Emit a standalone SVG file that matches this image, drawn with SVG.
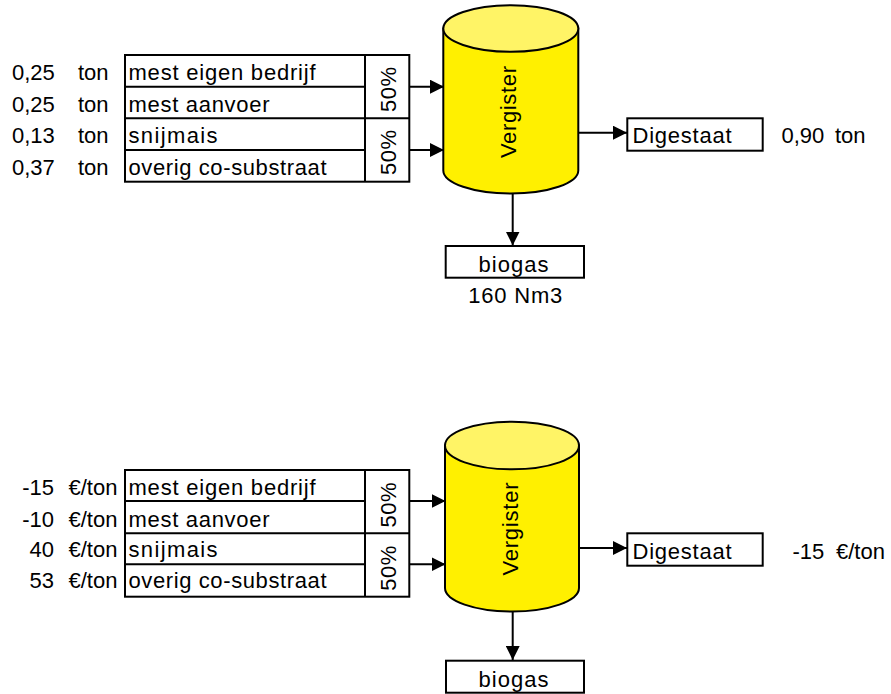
<svg xmlns="http://www.w3.org/2000/svg" width="891" height="694" viewBox="0 0 891 694">
  <style>
    text { font-family: "Liberation Sans", Arial, sans-serif; font-size: 22px; fill: #000; }
    .box { fill: #fff; stroke: #000; stroke-width: 2; }
    .grid { stroke: #000; stroke-width: 2; fill: none; }
    .body { fill: #FFF000; stroke: #000; stroke-width: 2; }
    .lid { fill: #FFF466; stroke: #000; stroke-width: 2; }
    .flow { stroke: #000; stroke-width: 2; fill: none; marker-end: url(#head); }
    .mid { text-anchor: middle; }
    .end { text-anchor: end; }
  </style>
  <defs>
    <marker id="head" markerUnits="userSpaceOnUse" markerWidth="15" markerHeight="14" refX="14" refY="7" orient="auto">
      <path d="M0,0 L14,7 L0,14 z" fill="#000"/>
    </marker>
  </defs>
  <rect width="891" height="694" fill="#fff"/>

  <!-- ===== Mass balance (top) ===== -->
  <g id="inputs-mass">
    <rect class="box" x="125" y="55" width="284.3" height="126.7"/>
    <path class="grid" d="M365,55 V181.7 M125,86.7 H365 M125,118.3 H409.3 M125,150 H365"/>
    <text x="12" y="80">0,25</text><text x="78" y="80">ton</text>
    <text x="12" y="111.7">0,25</text><text x="78" y="111.7">ton</text>
    <text x="12" y="143.3">0,13</text><text x="78" y="143.3">ton</text>
    <text x="12" y="175">0,37</text><text x="78" y="175">ton</text>
    <text x="128.5" y="80" textLength="187" lengthAdjust="spacing">mest eigen bedrijf</text>
    <text x="128.5" y="111.7" textLength="141" lengthAdjust="spacing">mest aanvoer</text>
    <text x="128.5" y="143.3" textLength="89" lengthAdjust="spacing">snijmais</text>
    <text x="128.5" y="175" textLength="198" lengthAdjust="spacing">overig co-substraat</text>
    <text class="mid" transform="translate(395.5,89.5) rotate(-90)" textLength="45" lengthAdjust="spacing">50%</text>
    <text class="mid" transform="translate(395.5,152.5) rotate(-90)" textLength="45" lengthAdjust="spacing">50%</text>
  </g>

  <g id="vergister-mass">
    <path class="body" d="M443.3,28.5 V170.5 A67.5,23 0 0 0 578.3,170.5 V28.5 z"/>
    <ellipse class="lid" cx="510.8" cy="28.5" rx="67.5" ry="23.3"/>
    <text class="mid" transform="translate(516,112) rotate(-90)" textLength="92" lengthAdjust="spacing">Vergister</text>
  </g>

  <g id="digestaat-mass">
    <rect class="box" x="627.3" y="118.3" width="135.4" height="32.4"/>
    <text x="632.5" y="143.3" textLength="99" lengthAdjust="spacing">Digestaat</text>
    <text x="781.5" y="143.3">0,90</text>
    <text x="835" y="143.3">ton</text>
  </g>

  <g id="biogas-mass">
    <rect class="box" x="445.7" y="246" width="138.3" height="31.7"/>
    <text class="mid" x="513.5" y="271.7" textLength="70" lengthAdjust="spacing">biogas</text>
    <text class="mid" x="515.3" y="302.7" textLength="94" lengthAdjust="spacing">160 Nm3</text>
  </g>

  <!-- ===== Cost balance (bottom) ===== -->
  <g id="inputs-cost">
    <rect class="box" x="125" y="470" width="284.3" height="126.7"/>
    <path class="grid" d="M365,470 V596.7 M125,501 H365 M125,533.3 H409.3 M125,564.3 H365"/>
    <text class="end" x="54" y="494.5">-15</text><text x="68.5" y="494.5">€/ton</text>
    <text class="end" x="54" y="526.7">-10</text><text x="68.5" y="526.7">€/ton</text>
    <text class="end" x="54" y="557">40</text><text x="68.5" y="557">€/ton</text>
    <text class="end" x="54" y="588">53</text><text x="68.5" y="588">€/ton</text>
    <text x="128.5" y="494.5" textLength="187" lengthAdjust="spacing">mest eigen bedrijf</text>
    <text x="128.5" y="526.7" textLength="141" lengthAdjust="spacing">mest aanvoer</text>
    <text x="128.5" y="557" textLength="89" lengthAdjust="spacing">snijmais</text>
    <text x="128.5" y="588" textLength="198" lengthAdjust="spacing">overig co-substraat</text>
    <text class="mid" transform="translate(395.5,505) rotate(-90)" textLength="45" lengthAdjust="spacing">50%</text>
    <text class="mid" transform="translate(395.5,568.3) rotate(-90)" textLength="45" lengthAdjust="spacing">50%</text>
  </g>

  <g id="vergister-cost">
    <path class="body" d="M445,445.5 V588 A67,23.5 0 0 0 579,588 V445.5 z"/>
    <ellipse class="lid" cx="512" cy="445.5" rx="67" ry="23.8"/>
    <text class="mid" transform="translate(517.5,529) rotate(-90)" textLength="93" lengthAdjust="spacing">Vergister</text>
  </g>

  <g id="digestaat-cost">
    <rect class="box" x="627.3" y="533.3" width="135.4" height="32.4"/>
    <text x="632.5" y="558.5" textLength="99" lengthAdjust="spacing">Digestaat</text>
    <text x="792.5" y="558.5">-15</text>
    <text x="836" y="558.5">€/ton</text>
  </g>

  <g id="biogas-cost">
    <rect class="box" x="446" y="660.7" width="138" height="32"/>
    <text class="mid" x="513.5" y="686.7" textLength="70" lengthAdjust="spacing">biogas</text>
  </g>

  <!-- flows between the blocks -->
  <g id="connectors">
    <line class="flow" x1="409.3" y1="86.7" x2="444" y2="86.7"/>
    <line class="flow" x1="409.3" y1="150" x2="444" y2="150"/>
    <line class="flow" x1="578.3" y1="132.7" x2="627" y2="132.7"/>
    <line class="flow" x1="512.7" y1="193.5" x2="512.7" y2="245.5"/>
    <line class="flow" x1="409.3" y1="501" x2="445.5" y2="501"/>
    <line class="flow" x1="409.3" y1="564.3" x2="445.5" y2="564.3"/>
    <line class="flow" x1="579" y1="548" x2="627" y2="548"/>
    <line class="flow" x1="512.7" y1="611.5" x2="512.7" y2="660"/>
  </g>
</svg>
